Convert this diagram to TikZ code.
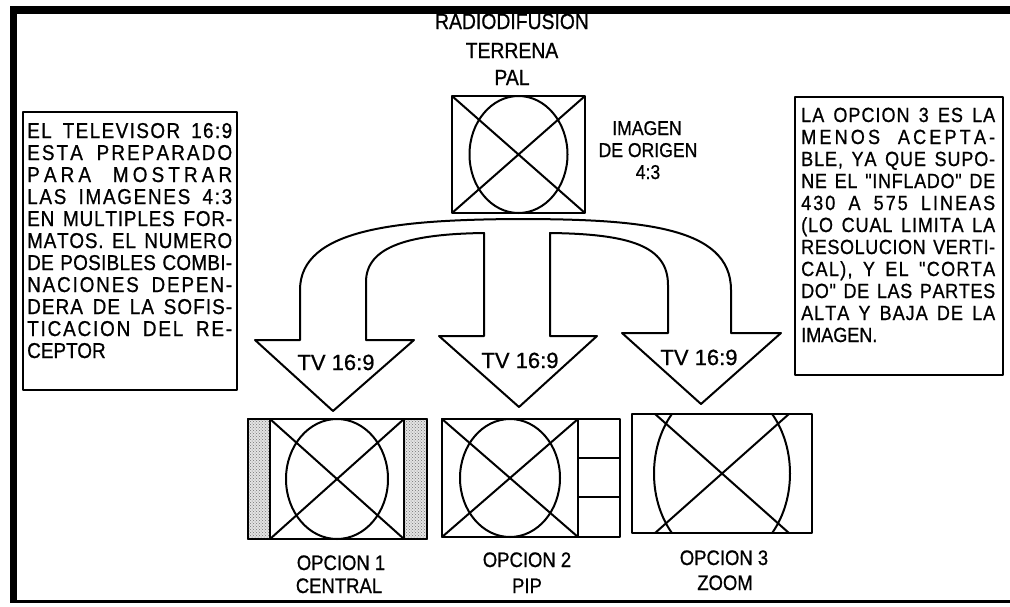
\documentclass[tikz,border=0pt]{standalone}
\usepackage{fontspec}
\setmainfont{Liberation Sans}[FakeBold=0.8]
\newfontfamily\cond{Liberation Sans}[FakeStretch=0.88,FakeBold=0.8]
\usetikzlibrary{patterns,calc}

\ExplSyntaxOn
\NewDocumentCommand\jline{mm}
 {
  \str_set:Nx \l_tmpa_str {#2}
  \makebox[#1][s]
   {
    \str_map_inline:Nn \l_tmpa_str
     {
      \str_if_eq:nnTF {##1} {~}
       { \hskip .25em plus 3fil\relax }
       { ##1 \hskip 0pt plus 1fil\relax }
     }
    \unskip
   }
 }
\ExplSyntaxOff

\begin{document}
\begin{tikzpicture}[x=1pt,y=-1pt,line join=round,
  pic/.style={draw=black,line width=2.2pt,inner sep=0pt,outer sep=0pt},
  fig/.style={line width=2pt},
  txtbox/.style={draw=black,line width=2pt,inner sep=0pt,outer sep=0pt,anchor=north west},
  titletext/.style={inner sep=0pt,anchor=base,font=\cond\fontsize{22}{24}\selectfont},
  origtext/.style={inner sep=0pt,anchor=base,font=\cond\fontsize{20}{22}\selectfont},
  tvtext/.style={inner sep=0pt,anchor=base,font=\fontsize{22}{24}\selectfont},
  optext/.style={inner sep=0pt,anchor=base,font=\cond\fontsize{21}{24}\selectfont},
  ltext/.style={inner sep=0pt,anchor=base west,font=\cond\fontsize{21.5}{22}\selectfont},
  rtext/.style={inner sep=0pt,anchor=base west,font=\cond\fontsize{20.5}{22}\selectfont},
  stripe/.style={draw=black,line width=2pt,inner sep=0pt,outer sep=0pt,
    preaction={fill=gray!22},pattern=crosshatch dots,pattern color=black!55}]
\useasboundingbox (0,0) rectangle (1010,606);

% title
\node[titletext] (ti1) at (512,29) {RADIODIFUSION};
\node[titletext] (ti2) at (512,58) {TERRENA};
\node[titletext] (ti3) at (512,85) {PAL};

% frame
\fill[black] (10,6) rectangle (1010,14);
\fill[black] (10,6) rectangle (17,603);
\draw[line width=3pt] (10,601) -- (1010,601);

% source picture
\node[pic,minimum width=133,minimum height=117] (src) at (518.5,154.5) {};
\draw[fig] (src.north west) -- (src.south east) (src.north east) -- (src.south west);
\draw[fig] (src.center) ellipse [x radius=49pt,y radius=58.5pt];

\node[origtext] (or1) at (647,135) {IMAGEN};
\node[origtext] (or2) at (648,157) {DE ORIGEN};
\node[origtext] (or3) at (648,179) {4:3};

% left text box
\node[txtbox,minimum width=214,minimum height=278] (lbox) at (23,112) {};
\foreach \t [count=\i] in {{EL TELEVISOR 16:9},{ESTA PREPARADO},{PARA MOSTRAR},{LAS IMAGENES 4:3},{EN MULTIPLES FOR-},{MATOS. EL NUMERO},{DE POSIBLES COMBI-},{NACIONES DEPEN-},{DERA DE LA SOFIS-},{TICACION DEL RE-},{CEPTOR}}
  \node[ltext] (L\i) at (27,{138+22*(\i-1)}) {\ifnum\i<11 \jline{205pt}{\t}\else\t\fi};

% right text box
\node[txtbox,minimum width=208,minimum height=278] (rbox) at (795,97) {};
\foreach \t [count=\i] in {{LA OPCION 3 ES LA},{MENOS ACEPTA-},{BLE, YA QUE SUPO-},{NE EL "INFLADO" DE},{430 A 575 LINEAS},{(LO CUAL LIMITA LA},{RESOLUCION VERTI-},{CAL), Y EL "CORTA},{DO" DE LAS PARTES},{ALTA Y BAJA DE LA},{IMAGEN.}}
  \node[rtext] (R\i) at (801,{122+22*(\i-1)}) {\ifnum\i<11 \jline{194pt}{\t}\else\t\fi};

% branching arrows
\draw[line width=2pt,fill=white]
  (300,340) -- (300,290) .. controls (300,228) and (400,220) .. (515,219)
  .. controls (640,219) and (731,226) .. (731,290) -- (731,333) -- (781,333)
  -- (701,404) -- (622,333) -- (668,333) -- (668,285)
  .. controls (668,246) and (630,234) .. (550,233) -- (550,336) -- (597,336)
  -- (519,407) -- (439,336) -- (484,336) -- (484,233)
  .. controls (410,234) and (366,246) .. (366,282) -- (366,340) -- (414,340)
  -- (333,411) -- (255,340) -- cycle;

\node[tvtext] (tv1) at (336,370) {TV 16:9};
\node[tvtext] (tv2) at (520,368) {TV 16:9};
\node[tvtext] (tv3) at (699,365) {TV 16:9};

% option 1
\node[stripe,minimum width=22,minimum height=120,anchor=north west] (s1) at (248,419) {};
\node[stripe,minimum width=23,minimum height=120,anchor=north east] (s2) at (427,419) {};
\node[pic,minimum width=179,minimum height=120] (b1) at (337.5,479) {};
\node[pic,minimum width=134,minimum height=120] (p1) at (337,479) {};
\draw[fig] (p1.north west) -- (p1.south east) (p1.north east) -- (p1.south west);
\draw[fig] (p1.center) ellipse [x radius=51pt,y radius=60pt];

% option 2
\node[pic,minimum width=178,minimum height=118] (b2) at (531,478) {};
\node[pic,minimum width=136,minimum height=118] (p2) at (510,478) {};
\draw[fig] (p2.north west) -- (p2.south east) (p2.north east) -- (p2.south west);
\draw[fig] (p2.center) ellipse [x radius=50pt,y radius=59pt];
\draw[line width=2pt] ($(p2.north east)!0.33!(p2.south east)$) -- ($(b2.north east)!0.33!(b2.south east)$);
\draw[line width=2pt] ($(p2.north east)!0.66!(p2.south east)$) -- ($(b2.north east)!0.66!(b2.south east)$);

% option 3
\node[pic,minimum width=180,minimum height=119] (b3) at (722,473.5) {};
\begin{scope}
  \clip (b3.north west) rectangle (b3.south east);
  \draw[fig] (b3.center) ellipse [x radius=68pt,y radius=88pt];
  \draw[fig] ($(b3.center)+(-90,-80)$) -- ($(b3.center)+(90,80)$);
  \draw[fig] ($(b3.center)+(90,-80)$) -- ($(b3.center)+(-90,80)$);
\end{scope}

% option labels
\node[optext] (o1a) at (341,570) {OPCION 1};
\node[optext] (o1b) at (339,593) {CENTRAL};
\node[optext] (o2a) at (527,567) {OPCION 2};
\node[optext] (o2b) at (527,593) {PIP};
\node[optext] (o3a) at (724,565) {OPCION 3};
\node[optext] (o3b) at (725,590) {ZOOM};
\end{tikzpicture}
\end{document}
